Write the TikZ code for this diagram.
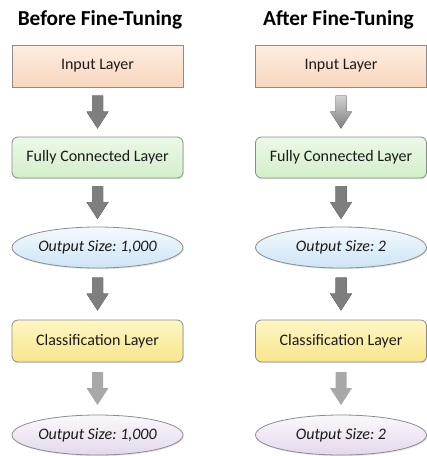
\documentclass[tikz,border=0pt]{standalone}
\usepackage{fontspec}
\setmainfont{Carlito}
\frenchspacing
\usetikzlibrary{shapes.geometric,shadows,calc}

\definecolor{edgegray}{HTML}{8C8C8C}
\definecolor{textc}{HTML}{1A1A1A}
\definecolor{peachtop}{HTML}{FDEDE0}
\definecolor{peachbot}{HTML}{F9D6BE}
\definecolor{greentop}{HTML}{ECF8E8}
\definecolor{greenbot}{HTML}{D2EFCA}
\definecolor{bluetop}{HTML}{F4FAFE}
\definecolor{bluebot}{HTML}{CDE4F4}
\definecolor{yellowtop}{HTML}{FEF6C4}
\definecolor{yellowbot}{HTML}{F8E58C}
\definecolor{lavtop}{HTML}{FBF8FD}
\definecolor{lavbot}{HTML}{E4D8EC}
\definecolor{arrowdark}{HTML}{7E7E7E}
\definecolor{arrowmid}{HTML}{A2A2A2}
\definecolor{arrowlight}{HTML}{A8A8A8}

\tikzset{
  layer/.style={draw=edgegray, line width=0.8pt, minimum width=171pt,
    minimum height=42pt, inner sep=0pt, text=textc,
    font=\fontsize{16}{19}\selectfont,
    drop shadow={opacity=0.22, shadow xshift=0.8pt, shadow yshift=-1.2pt}},
  inputbox/.style={layer, top color=peachtop, bottom color=peachbot},
  fcbox/.style={layer, rounded corners=6pt, minimum height=41pt,
    top color=greentop, bottom color=greenbot},
  classbox/.style={layer, rounded corners=6pt,
    top color=yellowtop, bottom color=yellowbot},
  sizeoval/.style={layer, ellipse, minimum height=41pt, inner xsep=-10pt,
    font=\fontsize{16}{19}\selectfont\itshape,
    top color=bluetop, bottom color=bluebot},
  resultoval/.style={layer, ellipse, minimum height=40pt, inner xsep=-10pt,
    font=\fontsize{16}{19}\selectfont\itshape,
    top color=lavtop, bottom color=lavbot},
  heading/.style={anchor=base, inner sep=0pt, text=black,
    font=\fontsize{21.3}{25}\selectfont\bfseries},
  arrowpaint/.style={left color=arrowdark, middle color=arrowmid, right color=arrowdark},
  % outline of a downward block arrow, 33pt long, centred on the pic origin
  arrowoutline/.style={insert path={
      (-5.5,-16.5) -- (5.5,-16.5) -- (5.5,-0.5) -- (11,-0.5) -- (0,16.5)
      -- (-11,-0.5) -- (-5.5,-0.5) -- cycle}},
  pics/blockarrow/.style={code={\fill[arrowpaint, arrowoutline];}},
  pics/flatblockarrow/.style={code={\fill[arrowlight, arrowoutline];}},
}

\begin{document}
\begin{tikzpicture}[x=1pt, y=-1pt]
  \useasboundingbox (0,0) rectangle (427,456);

  % column headings
  \node[heading] (headL) at (100,25) {Before Fine-Tuning};
  \node[heading] (headR) at (338.5,25) {After Fine-Tuning};

  % network before fine-tuning
  \node[inputbox]   (inL)  at (97.5,66)    {Input Layer};
  \node[fcbox]      (fcL)  at (97.5,157.5) {Fully Connected Layer};
  \node[sizeoval]   (szL)  at (97.5,247.5) {Output Size: 1,000};
  \node[classbox]   (clL)  at (97.5,341)   {Classification Layer};
  \node[resultoval] (outL) at (97.5,435)   {Output Size: 1,000};

  % network after fine-tuning
  \node[inputbox]   (inR)  at (341,66)    {Input Layer};
  \node[fcbox]      (fcR)  at (341,157.5) {Fully Connected Layer};
  \node[sizeoval]   (szR)  at (341,247.5) {Output Size: 2};
  \node[classbox]   (clR)  at (341,341)   {Classification Layer};
  \node[resultoval] (outR) at (341,435)   {Output Size: 2};

  % block arrows between consecutive layers
  \path (inL) -- (fcL) pic[pos=0.5]{blockarrow};
  \path (fcL) -- (szL) pic[pos=0.5]{blockarrow};
  \path (szL) -- (clL) pic[pos=0.5]{blockarrow};
  \path (clL) -- (outL) pic[pos=0.5]{flatblockarrow};

  \path (inR) -- (fcR) pic[pos=0.5, arrowpaint/.style={top color=gray!35, bottom color=arrowdark}]{blockarrow};
  \path (fcR) -- (szR) pic[pos=0.5]{blockarrow};
  \path (szR) -- (clR) pic[pos=0.5]{blockarrow};
  \path (clR) -- (outR) pic[pos=0.5]{flatblockarrow};
\end{tikzpicture}
\end{document}
